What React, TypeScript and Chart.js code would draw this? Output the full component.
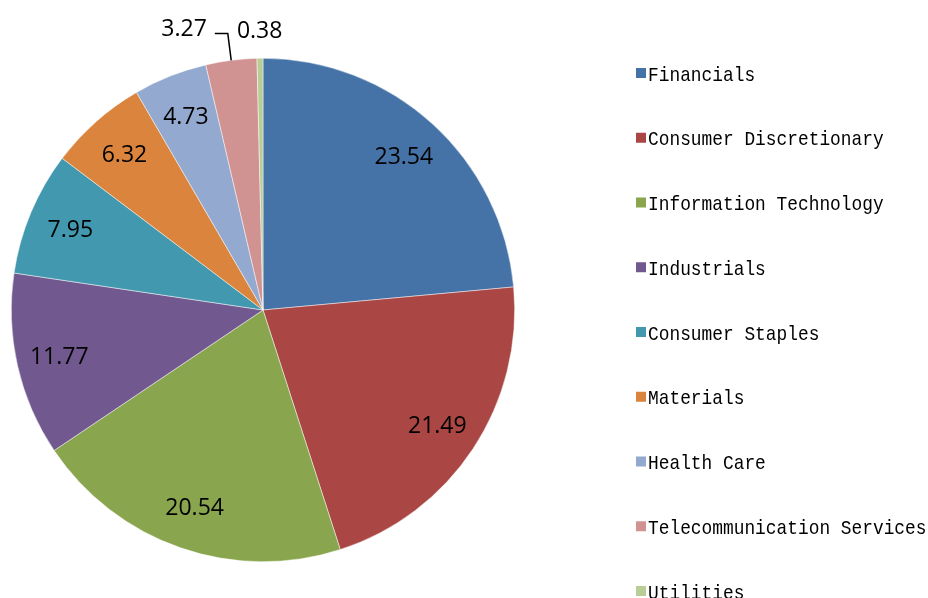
import React, { useEffect, useRef } from "react";
import { Chart, registerables } from "chart.js";

Chart.register(...registerables);

const categories = [
  "Financials",
  "Consumer Discretionary",
  "Information Technology",
  "Industrials",
  "Consumer Staples",
  "Materials",
  "Health Care",
  "Telecommunication Services",
  "Utilities",
];
const values = [23.54, 21.49, 20.54, 11.77, 7.95, 6.32, 4.73, 3.27, 0.38];
const colors = [
  "#4572A7",
  "#AA4643",
  "#89A54E",
  "#71588F",
  "#4198AF",
  "#DB843D",
  "#93A9CF",
  "#D19392",
  "#B9CD96",
];
// label placement style: "in" inside slice, "leader" outside with leader line, "out" outside
const labelModes = ["in", "in", "in", "in", "in", "in", "in", "leader", "out"];

const LABEL_FONT = '23px "Open Sans"';
const LEGEND_FONT = '21px "Liberation Mono"';

const labelsPlugin = {
  id: "sliceLabels",
  afterDatasetsDraw(chart: any) {
    const ctx = chart.ctx;
    const meta = chart.getDatasetMeta(0);
    ctx.save();
    ctx.font = LABEL_FONT;
    ctx.fillStyle = "#000";
    ctx.strokeStyle = "#000";
    ctx.lineWidth = 1.5;
    meta.data.forEach((arc: any, i: number) => {
      const p = arc.getProps(["x", "y", "startAngle", "endAngle", "outerRadius"], true);
      const mid = (p.startAngle + p.endAngle) / 2;
      const cx = Math.cos(mid);
      const sy = Math.sin(mid);
      const r = p.outerRadius;
      const txt = values[i].toFixed(2);
      const mode = labelModes[i];
      if (mode === "in") {
        const lx = p.x + 0.83 * r * cx;
        const ly = p.y + 0.83 * r * sy;
        ctx.textAlign = "center";
        ctx.textBaseline = "alphabetic";
        ctx.fillText(txt, lx, ly + 8);
      } else if (mode === "leader") {
        const ax = p.x + r * cx;
        const ay = p.y + r * sy;
        const ex = p.x + (r + 27) * cx;
        const ey = p.y + (r + 27) * sy;
        ctx.beginPath();
        ctx.moveTo(ax, ay);
        ctx.lineTo(ex, ey);
        ctx.lineTo(ex - 13, ey);
        ctx.stroke();
        ctx.textAlign = "right";
        ctx.textBaseline = "alphabetic";
        ctx.fillText(txt, ex - 21, ey + 2);
      } else {
        const lx = p.x + (r + 28) * cx;
        const ly = p.y + (r + 28) * sy;
        ctx.textAlign = "center";
        ctx.textBaseline = "alphabetic";
        ctx.fillText(txt, lx, ly + 8);
      }
    });
    ctx.restore();
  },
  afterDraw(chart: any) {
    const ctx = chart.ctx;
    ctx.save();
    const x0 = chart.width - 292;
    const y0 = 73;
    const step = 64.75;
    ctx.font = LEGEND_FONT;
    ctx.textAlign = "left";
    ctx.textBaseline = "alphabetic";
    categories.forEach((name, i) => {
      const yc = y0 + i * step;
      ctx.fillStyle = colors[i];
      ctx.fillRect(x0, yc - 5, 10, 10);
      ctx.fillStyle = "#000";
      ctx.save();
      ctx.translate(x0 + 12, yc + 7.5);
      ctx.scale(0.85, 1);
      ctx.fillText(name, 0, 0);
      ctx.restore();
    });
    ctx.restore();
  },
};

export default function App() {
  const ref = useRef<HTMLCanvasElement>(null);
  useEffect(() => {
    if (!ref.current) return;
    const chart = new Chart(ref.current, {
      type: "pie",
      data: {
        labels: categories,
        datasets: [
          {
            data: values,
            backgroundColor: colors,
            borderColor: "rgba(255,255,255,0.8)",
            borderWidth: 0.6,
            hoverBorderWidth: 0.6,
            hoverOffset: 0,
          },
        ],
      },
      options: {
        animation: false,
        responsive: true,
        maintainAspectRatio: false,
        layout: { padding: { left: 11, top: 58, right: 413, bottom: 36 } },
        plugins: {
          legend: { display: false },
          tooltip: { enabled: false },
        },
      },
      plugins: [labelsPlugin],
    });
    return () => chart.destroy();
  }, []);
  return (
    <div style={{ position: "fixed", left: 0, top: 0, width: 928, height: 598, background: "#fff" }}>
      <canvas ref={ref} />
    </div>
  );
}
